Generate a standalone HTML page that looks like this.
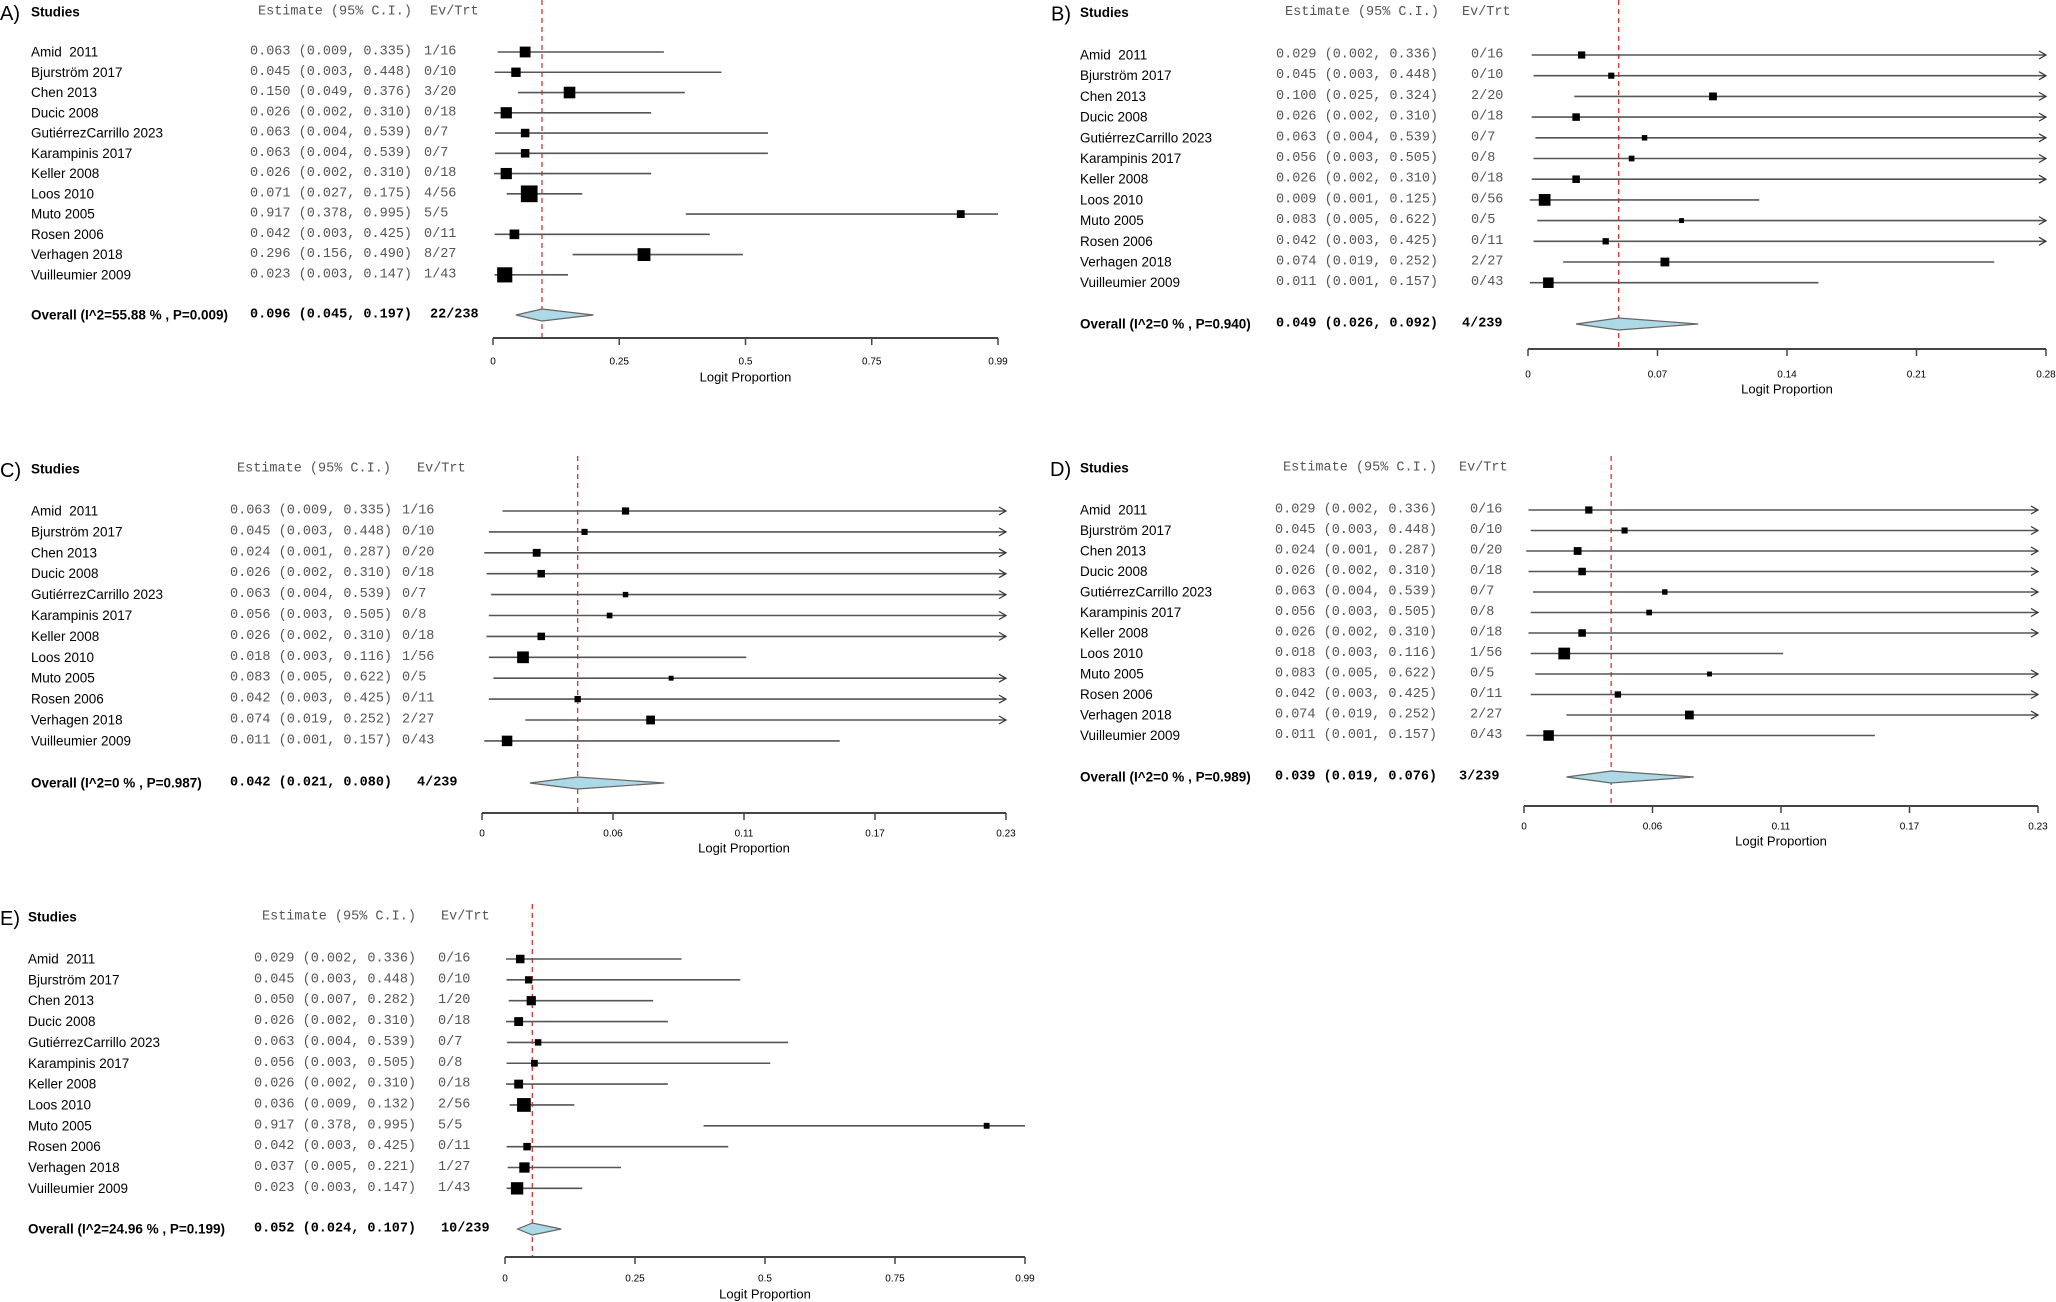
<!DOCTYPE html>
<html><head><meta charset="utf-8"><style>
html,body{margin:0;padding:0;background:#fff;}
svg{display:block;}
.lab{font-family:"Liberation Sans",sans-serif;font-size:13.5px;fill:#000;}
.mono{font-family:"Liberation Mono",monospace;font-size:13.5px;fill:#555;}
.bold{font-weight:bold;fill:#000;}
.tick{font-family:"Liberation Sans",sans-serif;font-size:10px;fill:#000;}
.ttl{font-family:"Liberation Sans",sans-serif;font-size:13px;fill:#000;}
.letter{font-family:"Liberation Sans",sans-serif;font-size:20px;fill:#000;}
</style></head><body>
<svg id="chart" width="2056" height="1302" viewBox="0 0 2056 1302" xmlns="http://www.w3.org/2000/svg"></svg>
<script>
const studies = ["Amid\u00a0\u00a02011","Bjurström 2017","Chen 2013","Ducic 2008","GutiérrezCarrillo 2023","Karampinis 2017","Keller 2008","Loos 2010","Muto 2005","Rosen 2006","Verhagen 2018","Vuilleumier 2009"];

const estA = [0.063,0.045,0.150,0.026,0.063,0.063,0.026,0.071,0.917,0.042,0.296,0.023];
const loA  = [0.009,0.003,0.049,0.002,0.004,0.004,0.002,0.027,0.378,0.003,0.156,0.003];
const hiA  = [0.335,0.448,0.376,0.310,0.539,0.539,0.310,0.175,0.995,0.425,0.490,0.147];
const evA  = [1,0,3,0,0,0,0,4,5,0,8,1];
const nA   = [16,10,20,18,7,7,18,56,5,11,27,43];
const overallA = [0.096,0.045,0.197];
const overallTextA = ["55.88","0.009","22/238"];
const ticksA = ["0","0.25","0.5","0.75","0.99"];

const estB = [0.029,0.045,0.100,0.026,0.063,0.056,0.026,0.009,0.083,0.042,0.074,0.011];
const loB  = [0.002,0.003,0.025,0.002,0.004,0.003,0.002,0.001,0.005,0.003,0.019,0.001];
const hiB  = [0.336,0.448,0.324,0.310,0.539,0.505,0.310,0.125,0.622,0.425,0.252,0.157];
const evB  = [0,0,2,0,0,0,0,0,0,0,2,0];
const nB   = [16,10,20,18,7,8,18,56,5,11,27,43];
const overallB = [0.049,0.026,0.092];
const overallTextB = ["0","0.940","4/239"];
const ticksB = ["0","0.07","0.14","0.21","0.28"];

const estC = [0.063,0.045,0.024,0.026,0.063,0.056,0.026,0.018,0.083,0.042,0.074,0.011];
const loC  = [0.009,0.003,0.001,0.002,0.004,0.003,0.002,0.003,0.005,0.003,0.019,0.001];
const hiC  = [0.335,0.448,0.287,0.310,0.539,0.505,0.310,0.116,0.622,0.425,0.252,0.157];
const evC  = [1,0,0,0,0,0,0,1,0,0,2,0];
const nC   = [16,10,20,18,7,8,18,56,5,11,27,43];
const overallC = [0.042,0.021,0.080];
const overallTextC = ["0","0.987","4/239"];
const ticksC = ["0","0.06","0.11","0.17","0.23"];

const estD = [0.029,0.045,0.024,0.026,0.063,0.056,0.026,0.018,0.083,0.042,0.074,0.011];
const loD  = [0.002,0.003,0.001,0.002,0.004,0.003,0.002,0.003,0.005,0.003,0.019,0.001];
const hiD  = [0.336,0.448,0.287,0.310,0.539,0.505,0.310,0.116,0.622,0.425,0.252,0.157];
const evD  = [0,0,0,0,0,0,0,1,0,0,2,0];
const nD   = [16,10,20,18,7,8,18,56,5,11,27,43];
const overallD = [0.039,0.019,0.076];
const overallTextD = ["0","0.989","3/239"];
const ticksD = ["0","0.06","0.11","0.17","0.23"];

const estE = [0.029,0.045,0.050,0.026,0.063,0.056,0.026,0.036,0.917,0.042,0.037,0.023];
const loE  = [0.002,0.003,0.007,0.002,0.004,0.003,0.002,0.009,0.378,0.003,0.005,0.003];
const hiE  = [0.336,0.448,0.282,0.310,0.539,0.505,0.310,0.132,0.995,0.425,0.221,0.147];
const evE  = [0,0,1,0,0,0,0,2,5,0,1,1];
const nE   = [16,10,20,18,7,8,18,56,5,11,27,43];
const overallE = [0.052,0.024,0.107];
const overallTextE = ["24.96","0.199","10/239"];
const ticksE = ["0","0.25","0.5","0.75","0.99"];

const domainMax = [0.99,0.28,0.23,0.23,0.99];

const layouts = [
 {id:"a",letter:"A)",lx:0,labelX:31,estX:250,evX:424,hEst:258,hEv:430,headY:12,row0:52,step:20.26,ovY:315,axY:338,x0:493,x1:998,tkY:362,ttY:377,dTop:0,box:[4,1.7]},
 {id:"b",letter:"B)",lx:1051,labelX:1080,estX:1276,evX:1471,hEst:1285,hEv:1462,headY:12.5,row0:55,step:20.7,ovY:324,axY:349,x0:1528,x1:2046,tkY:375,ttY:389,dTop:0,box:[2,1.3]},
 {id:"c",letter:"C)",lx:0,labelX:31,estX:230,evX:402,hEst:237,hEv:417,headY:469,row0:511,step:20.9,ovY:783,axY:813,x0:482,x1:1006,tkY:834,ttY:848,dTop:456,box:[2,1.3]},
 {id:"d",letter:"D)",lx:1050,labelX:1080,estX:1275,evX:1470,hEst:1283,hEv:1459,headY:468,row0:510,step:20.5,ovY:777,axY:806,x0:1524,x1:2038,tkY:827,ttY:841,dTop:456,box:[2,1.3]},
 {id:"e",letter:"E)",lx:0,labelX:28,estX:254,evX:438,hEst:262,hEv:441,headY:917,row0:959,step:20.85,ovY:1229,axY:1257,x0:505,x1:1025,tkY:1279,ttY:1294,dTop:904,box:[2.5,1.5]}
];
const panels = [
 [estA,loA,hiA,evA,nA,overallA,overallTextA,ticksA],
 [estB,loB,hiB,evB,nB,overallB,overallTextB,ticksB],
 [estC,loC,hiC,evC,nC,overallC,overallTextC,ticksC],
 [estD,loD,hiD,evD,nD,overallD,overallTextD,ticksD],
 [estE,loE,hiE,evE,nE,overallE,overallTextE,ticksE]
];

const NS="http://www.w3.org/2000/svg";
const svg=document.getElementById('chart');
function mk(tag,attrs,parent){const e=document.createElementNS(NS,tag);for(const k in attrs)e.setAttribute(k,attrs[k]);(parent||svg).appendChild(e);return e;}
function txt(parent,x,y,s,cls){const t=mk('text',{x:x,y:y,'class':cls,'dominant-baseline':'central'},parent);t.setAttribute('xml:space','preserve');t.textContent=s;return t;}
const f3=v=>v.toFixed(3);

panels.forEach((p,pi)=>{
 const [est,lo,hi,ev,n,ov,ovt,ticks]=p;
 const L=layouts[pi];
 const max=domainMax[pi];
 const xs=v=>L.x0+Math.min(v,max)/max*(L.x1-L.x0);
 const g=mk('g',{});
 
 
 const lt=txt(g,L.lx,L.headY+2,L.letter,'letter');
 
 
 const st=txt(g,L.labelX,L.headY,'Studies','lab bold');
 
 
 const he=txt(g,L.hEst,L.headY,'Estimate (95% C.I.)','mono');
 
 
 const hv=txt(g,L.hEv,L.headY,'Ev/Trt','mono');
 
 
 const rl=mk('line',{x1:xs(ov[0]),x2:xs(ov[0]),y1:L.dTop,y2:L.axY,stroke:'#e03030','stroke-width':1.3,'stroke-dasharray':'5,4'},g);
 
 
 est.forEach((e,i)=>{
  const y=L.row0+i*L.step;
  const r=mk('g',{},g);
  
  
  txt(r,L.labelX,y,studies[i],'lab');
  txt(r,L.estX,y,f3(e)+' ('+f3(lo[i])+', '+f3(hi[i])+')','mono');
  txt(r,L.evX,y,ev[i]+'/'+n[i],'mono');
  const xa=xs(lo[i]),xb=xs(hi[i]);
  const ci=mk('line',{x1:xa,x2:xb,y1:y,y2:y,stroke:'#555','stroke-width':1.6},r);
  
  
  if(hi[i]>max*1.02){
   const ar=mk('path',{d:`M${xb-7},${y-4} L${xb},${y} L${xb-7},${y+4}`,fill:'none',stroke:'#333','stroke-width':1.2},r);
   
   
  }
  const s=L.box[0]+L.box[1]*Math.sqrt(n[i]);
  const b=mk('rect',{x:xs(e)-s/2,y:y-s/2,width:s,height:s,fill:'#000'},r);
  
  
 });
 const oy=L.ovY;
 const ol=txt(g,L.labelX,oy,'Overall (I^2='+ovt[0]+' % , P='+ovt[1]+')','lab bold');
 
 
 const oe=txt(g,L.estX,oy,f3(ov[0])+' ('+f3(ov[1])+', '+f3(ov[2])+')','mono bold');
 
 
 const oev=txt(g,L.hEv,oy,ovt[2],'mono bold');
 
 
 const dm=mk('polygon',{points:`${xs(ov[1])},${oy} ${xs(ov[0])},${oy-6} ${xs(ov[2])},${oy} ${xs(ov[0])},${oy+6}`,fill:'#add8e6',stroke:'#666','stroke-width':1.2},g);
 
 
 const ax=mk('line',{x1:L.x0,x2:L.x1,y1:L.axY,y2:L.axY,stroke:'#444','stroke-width':2},g);
 
 
 ticks.forEach((t,k)=>{
  const x=L.x0+k/(ticks.length-1)*(L.x1-L.x0);
  const tl=mk('line',{x1:x,x2:x,y1:L.axY,y2:L.axY+7,stroke:'#444','stroke-width':1.5},g);
  
  
  const tt=txt(g,x,L.tkY,t,'tick');
  tt.setAttribute('text-anchor','middle');
  
  
 });
 const at=txt(g,(L.x0+L.x1)/2,L.ttY,'Logit Proportion','ttl');
 at.setAttribute('text-anchor','middle');
 
 
});
</script>
</body></html>
